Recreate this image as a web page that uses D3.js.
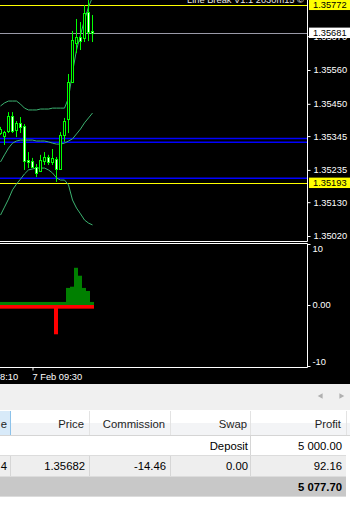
<!DOCTYPE html>
<html>
<head>
<meta charset="utf-8">
<script src="https://cdn.jsdelivr.net/npm/d3@7"></script>
<style>
body { margin: 0; background: #000; overflow: hidden; }
svg { display: block; font-family: "Liberation Sans", Arial, sans-serif; }
</style>
</head>
<body>
<svg id="chart"></svg>
<script>
// M5 bars, oldest first
const open  = [1.35355,1.35345,1.35362,1.35410,1.35365,1.35388,1.35378,1.35267,1.35264,1.35245,1.35231,1.35264,1.35277,1.35261,1.35271,1.35238,1.35349,1.35401,1.35521,1.35648,1.35667,1.35664,1.35749,1.35687];
const high  = [1.35375,1.35362,1.35423,1.35423,1.35394,1.35407,1.35384,1.35293,1.35274,1.35254,1.35284,1.35293,1.35284,1.35303,1.35277,1.35358,1.35404,1.35547,1.35687,1.35726,1.35716,1.35771,1.35794,1.35739];
const low   = [1.35349,1.35316,1.35355,1.35355,1.35342,1.35355,1.35235,1.35241,1.35241,1.35212,1.35228,1.35251,1.35251,1.35251,1.35196,1.35235,1.35326,1.35355,1.35521,1.35615,1.35625,1.35651,1.35654,1.35651];
const close = [1.35368,1.35358,1.35410,1.35362,1.35388,1.35375,1.35264,1.35261,1.35245,1.35225,1.35267,1.35277,1.35261,1.35274,1.35238,1.35349,1.35394,1.35521,1.35658,1.35667,1.35654,1.35745,1.35684,1.35681];

// bollinger bands
const bbUpper  = [1.35443,1.35453,1.35459,1.35459,1.35459,1.35449,1.35436,1.35430,1.35430,1.35430,1.35433,1.35433,1.35433,1.35436,1.35436,1.35436,1.35436,1.35469,1.35553,1.35625,1.35674,1.35723,1.35765,1.35797];
const bbMiddle = [1.35261,1.35284,1.35306,1.35322,1.35329,1.35332,1.35332,1.35332,1.35332,1.35329,1.35329,1.35329,1.35326,1.35322,1.35319,1.35319,1.35322,1.35329,1.35336,1.35352,1.35368,1.35388,1.35404,1.35420];
const bbLower  = [1.35088,1.35114,1.35140,1.35170,1.35189,1.35205,1.35222,1.35235,1.35238,1.35241,1.35241,1.35241,1.35235,1.35225,1.35209,1.35202,1.35202,1.35186,1.35137,1.35111,1.35092,1.35072,1.35062,1.35056];

// sub window histogram
const histUp   = [0.5,0.5,0.5,0.5,0.5,0.5,0.5,0.5,0.5,0.5,0.5,0.5,0.5,0.5,0.5,0.5,0.5,2.8,3.0,6.1,4.8,2.8,2.3,0.5];
const histDown = [-0.6,-0.6,-0.6,-0.6,-0.6,-0.6,-0.6,-0.6,-0.6,-0.6,-0.6,-0.6,-0.6,-0.6,-4.8,-0.6,-0.6,-0.6,-0.6,-0.6,-0.6,-0.6,-0.6,-0.6];

const priceTicks = [1.35020, 1.35130, 1.35235, 1.35345, 1.35450, 1.35560, 1.35670];
const subTicks = [10, 0, -10];
const timeTicks = [-8, 8];
const timeLabels = ["7 Feb 08:10", "7 Feb 09:30"];

const blueLevels = [1.35337, 1.35325, 1.35208];
const yellowLevels = [1.35772, 1.35193];
const bidPrice = 1.35681;
const chartComment = "Line Break V1.1 2030m15 \u00a9";

// terminal table
const tableHeader = ["e", "Price", "Commission", "Swap", "Profit"];
const depositRow = ["", "", "", "Deposit", "5 000.00"];
const tradeRow = ["4", "1.35682", "-14.46", "0.00", "92.16"];
const totalRow = ["", "", "", "", "5 077.70"];

const W = 350, H = 508;
const axisX = 307;

const svg = d3.select("#chart").attr("width", W).attr("height", H);
svg.append("rect").attr("width", W).attr("height", 384).attr("fill", "#000");

const defs = svg.append("defs");
defs.append("clipPath").attr("id", "mainClip")
    .append("rect").attr("x", 0).attr("y", 0).attr("width", axisX).attr("height", 241);
defs.append("clipPath").attr("id", "subClip")
    .append("rect").attr("x", 0).attr("y", 244).attr("width", axisX).attr("height", 123);

// scales
const x = d3.scaleLinear().domain([0, 23]).range([0, 92]);
const y = d3.scaleLinear().domain([1.35020, 1.35560]).range([236, 70]);
const y2 = d3.scaleLinear().domain([-10, 10]).range([366, 244]);

const main = svg.append("g").attr("clip-path", "url(#mainClip)");

// horizontal levels
main.selectAll(".blue").data(blueLevels).join("line")
    .attr("x1", 0).attr("x2", axisX)
    .attr("y1", d => y(d)).attr("y2", d => y(d))
    .attr("stroke", "#0000ff").attr("stroke-width", 1.6);
main.selectAll(".yellow").data(yellowLevels).join("line")
    .attr("x1", 0).attr("x2", axisX)
    .attr("y1", d => Math.round(y(d)) + 0.5).attr("y2", d => Math.round(y(d)) + 0.5)
    .attr("stroke", "#ffff00");
main.append("line")
    .attr("x1", 0).attr("x2", axisX)
    .attr("y1", Math.round(y(bidPrice)) + 0.5).attr("y2", Math.round(y(bidPrice)) + 0.5)
    .attr("stroke", "#9a9aa8");

// bands
const bandLine = d3.line().x((d, i) => x(i) + 0.5).y(d => y(d));
[bbUpper, bbMiddle, bbLower].forEach(band => {
    main.append("path").datum(band)
        .attr("d", bandLine)
        .attr("fill", "none")
        .attr("stroke", "#3cb371")
        .attr("stroke-width", 1);
});

// candles
const bars = d3.range(open.length);
main.selectAll(".wick").data(bars).join("line")
    .attr("x1", i => x(i) + 0.5).attr("x2", i => x(i) + 0.5)
    .attr("y1", i => y(high[i])).attr("y2", i => y(low[i]))
    .attr("stroke", "#00ff00");
main.selectAll(".body").data(bars).join("rect")
    .attr("x", i => x(i) - 0.5)
    .attr("width", 2)
    .attr("y", i => Math.round(y(Math.max(open[i], close[i]))) + 0.5)
    .attr("height", i => Math.max(1, Math.round(Math.abs(y(open[i]) - y(close[i])))))
    .attr("fill", i => close[i] >= open[i] ? "#000" : "#fff")
    .attr("stroke", "#00ff00");

// chart comment (top, partially cut)
svg.append("text")
    .attr("x", 187).attr("y", 3)
    .attr("font-size", 9.3)
    .attr("fill", "#e6e6e6")
    .text(chartComment);

// sub window histogram
const sub = svg.append("g").attr("clip-path", "url(#subClip)");
sub.selectAll(".up").data(bars).join("rect")
    .attr("x", i => x(i) - 2).attr("width", 4)
    .attr("y", i => y2(histUp[i]))
    .attr("height", i => y2(0) - y2(histUp[i]))
    .attr("fill", "#008000");
sub.selectAll(".down").data(bars).join("rect")
    .attr("x", i => x(i) - 2).attr("width", 4)
    .attr("y", y2(0))
    .attr("height", i => y2(histDown[i]) - y2(0))
    .attr("fill", "#ff0000");

// frames
const frame = svg.append("g").attr("stroke", "#fff").attr("stroke-width", 1);
frame.append("line").attr("x1", 0).attr("x2", axisX + 0.5).attr("y1", 241.5).attr("y2", 241.5);
frame.append("line").attr("x1", 0).attr("x2", axisX + 0.5).attr("y1", 243.5).attr("y2", 243.5);
frame.append("line").attr("x1", 0).attr("x2", axisX + 0.5).attr("y1", 367.5).attr("y2", 367.5);
frame.append("line").attr("x1", axisX + 0.5).attr("x2", axisX + 0.5).attr("y1", 0).attr("y2", 241.5);
frame.append("line").attr("x1", axisX + 0.5).attr("x2", axisX + 0.5).attr("y1", 243.5).attr("y2", 367.5);

// price axis
const priceAxis = svg.append("g")
    .attr("transform", `translate(${axisX + 0.5},0)`)
    .call(d3.axisRight(y).tickValues(priceTicks).tickSize(3).tickPadding(3).tickFormat(d3.format(".5f")));
priceAxis.select(".domain").remove();
priceAxis.selectAll("line").attr("stroke", "#fff");
priceAxis.selectAll("text").attr("fill", "#fff").attr("font-size", 9.3).attr("font-family", "Liberation Sans, Arial, sans-serif");

// price labels in boxes
const boxes = [
    { p: yellowLevels[0], bg: "#ffff00" },
    { p: bidPrice, bg: "#ffffff" },
    { p: yellowLevels[1], bg: "#ffff00" }
];
const boxG = svg.append("g");
boxes.forEach(b => {
    const cy = y(b.p);
    boxG.append("rect").attr("x", 309).attr("y", cy - 5.2).attr("width", 41).attr("height", 10.4).attr("fill", b.bg);
    boxG.append("text").attr("x", 313).attr("y", cy).attr("dy", "0.35em")
        .attr("font-size", 9.3).attr("fill", "#000").text(d3.format(".5f")(b.p));
});

// sub axis
const subAxis = svg.append("g")
    .attr("transform", `translate(${axisX + 0.5},0)`)
    .call(d3.axisRight(y2).tickValues(subTicks).tickSize(3).tickPadding(2).tickFormat(d => d === 0 ? "0.00" : d));
subAxis.select(".domain").remove();
subAxis.selectAll("line").attr("stroke", "#fff");
subAxis.selectAll("text").attr("fill", "#fff").attr("font-size", 9.3).attr("font-family", "Liberation Sans, Arial, sans-serif")
    .attr("dy", d => d === 10 ? "0.85em" : d === -10 ? "-0.2em" : "0.32em");

// time axis
const timeAxis = svg.append("g")
    .attr("transform", "translate(0.5,367.5)")
    .call(d3.axisBottom(x).tickValues(timeTicks).tickSize(3).tickPadding(3).tickFormat((d, i) => timeLabels[i]));
timeAxis.select(".domain").remove();
timeAxis.selectAll("line").attr("stroke", "#fff");
timeAxis.selectAll("text").attr("fill", "#fff").attr("font-size", 9.3)
    .attr("font-family", "Liberation Sans, Arial, sans-serif")
    .attr("text-anchor", "start").attr("x", -0.5);

// terminal panel
const term = svg.append("g").attr("font-size", 11.3).attr("fill", "#000");
term.append("rect").attr("x", 0).attr("y", 384).attr("width", W).attr("height", H - 384).attr("fill", "#fff");
term.append("rect").attr("x", 0).attr("y", 384).attr("width", W).attr("height", 26).attr("fill", "#f0f0f0");
term.append("path").attr("d", d3.symbol(d3.symbolTriangle, 14)).attr("transform", "translate(321,396) rotate(-90)").attr("fill", "#b0b0b0");
term.append("path").attr("d", d3.symbol(d3.symbolTriangle, 14)).attr("transform", "translate(341,396) rotate(90)").attr("fill", "#b0b0b0");

const colRight = [10, 89, 170, 250, 346];
const textRight = [7, 85, 166, 248, 342];

// header
term.append("rect").attr("x", 0).attr("y", 411).attr("width", W).attr("height", 12).attr("fill", "#ffffff");
term.append("rect").attr("x", 0).attr("y", 423).attr("width", W).attr("height", 12).attr("fill", "#f3f4f6");
term.append("rect").attr("x", 0).attr("y", 411).attr("width", colRight[0]).attr("height", 24).attr("fill", "#d8eaf9");
term.append("line").attr("x1", colRight[0] + 0.5).attr("x2", colRight[0] + 0.5).attr("y1", 411).attr("y2", 435)
    .attr("stroke", "#8cc2ea");
term.selectAll(".hsep").data(colRight.slice(1)).join("line")
    .attr("x1", d => d + 0.5).attr("x2", d => d + 0.5).attr("y1", 411).attr("y2", 435)
    .attr("stroke", "#e3e3e3");
term.append("line").attr("x1", 0).attr("x2", W).attr("y1", 435.5).attr("y2", 435.5).attr("stroke", "#d5d5d5");
term.selectAll(".htxt").data(tableHeader).join("text")
    .attr("x", (d, i) => textRight[i] - (i === 0 ? 0 : 1)).attr("y", 424).attr("dy", "0.35em")
    .attr("text-anchor", "end").attr("fill", "#1e1e1e").text(d => d);

// rows
const rows = [
    { cells: depositRow, top: 436, h: 20, bg: "#ffffff", seps: [colRight[3]], bold: false },
    { cells: tradeRow, top: 456, h: 21, bg: "#eeeeee", seps: colRight.slice(0, 4), bold: false },
    { cells: totalRow, top: 477, h: 20, bg: "#c8c8c8", seps: [], bold: true }
];
rows.forEach(r => {
    term.append("rect").attr("x", 0).attr("y", r.top).attr("width", colRight[4]).attr("height", r.h).attr("fill", r.bg);
    r.seps.forEach(s => term.append("line").attr("x1", s + 0.5).attr("x2", s + 0.5)
        .attr("y1", r.top).attr("y2", r.top + r.h).attr("stroke", "#d6d6d6"));
    term.append("line").attr("x1", 0).attr("x2", colRight[4]).attr("y1", r.top + r.h - 0.5).attr("y2", r.top + r.h - 0.5)
        .attr("stroke", "#dcdcdc");
    term.selectAll(null).data(r.cells).join("text")
        .attr("x", (d, i) => textRight[i]).attr("y", r.top + r.h / 2).attr("dy", "0.35em")
        .attr("text-anchor", "end")
        .attr("font-weight", r.bold ? "bold" : "normal")
        .attr("fill", "#000")
        .text(d => d);
});
</script>
</body>
</html>
